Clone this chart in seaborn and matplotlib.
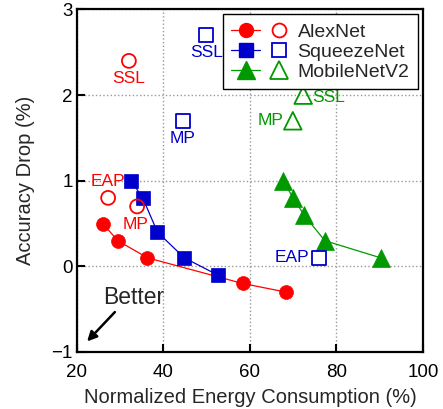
import matplotlib
matplotlib.use("Agg")
import matplotlib.pyplot as plt
import seaborn as sns
from matplotlib.lines import Line2D
from matplotlib.legend_handler import HandlerTuple

# data
alex_x = [26.0, 29.4, 36.3, 58.3, 68.3]
alex_y = [0.5, 0.3, 0.1, -0.2, -0.3]
squeeze_x = [32.5, 35.2, 38.6, 44.8, 52.5]
squeeze_y = [1.0, 0.8, 0.4, 0.1, -0.1]
mobile_x = [67.6, 70.0, 72.5, 77.3, 90.2]
mobile_y = [1.0, 0.8, 0.6, 0.3, 0.1]

alex_open_x = [32.0, 27.2, 33.9]
alex_open_y = [2.4, 0.8, 0.7]
alex_open_labels = ["SSL", "EAP", "MP"]
squeeze_open_x = [49.9, 44.5, 76.0]
squeeze_open_y = [2.7, 1.7, 0.1]
squeeze_open_labels = ["SSL", "MP", "EAP"]
mobile_open_x = [72.3, 69.9]
mobile_open_y = [2.0, 1.7]
mobile_open_labels = ["SSL", "MP"]

series_names = ["AlexNet", "SqueezeNet", "MobileNetV2"]
x_ticks = [20, 40, 60, 80, 100]
y_ticks = [-1, 0, 1, 2, 3]

RED, BLUE, GREEN = "#ff0000", "#0000cc", "#009900"

sns.set_style("ticks")
plt.rcParams["font.family"] = ["Liberation Sans", "DejaVu Sans"]

fig = plt.figure(figsize=(4.43, 4.09), dpi=100)
ax = fig.add_axes([0.1738, 0.1394, 0.781, 0.8374])

# filled markers with lines
filled = [
    (alex_x, alex_y, RED, "o", 10),
    (squeeze_x, squeeze_y, BLUE, "s", 10.5),
    (mobile_x, mobile_y, GREEN, "^", 12.5),
]
for xs, ys, c, m, ms in filled:
    sns.lineplot(x=xs, y=ys, ax=ax, color=c, lw=0.9, marker=m, markersize=ms,
                 markeredgecolor=c, markeredgewidth=0.5, sort=False, zorder=3)

# open markers
opened = [
    (alex_open_x, alex_open_y, RED, "o", 100),
    (squeeze_open_x, squeeze_open_y, BLUE, "s", 100),
    (mobile_open_x, mobile_open_y, GREEN, "^", 160),
]
for xs, ys, c, m, s in opened:
    ax.scatter(xs, ys, marker=m, s=s, facecolors="none", edgecolors=c,
               linewidths=1.3, zorder=3)

# text offsets (points) next to the open markers
label_style = {
    ("AlexNet", "SSL"): ((0, -13), "center"),
    ("AlexNet", "EAP"): ((0, 11.5), "center"),
    ("AlexNet", "MP"): ((-1.4, -13), "center"),
    ("SqueezeNet", "SSL"): ((0, -12.5), "center"),
    ("SqueezeNet", "MP"): ((0, -13), "center"),
    ("SqueezeNet", "EAP"): ((-7, 0), "right"),
    ("MobileNetV2", "SSL"): ((6.5, -1.5), "left"),
    ("MobileNetV2", "MP"): ((-7, 0), "right"),
}
groups = [
    ("AlexNet", alex_open_x, alex_open_y, alex_open_labels, RED),
    ("SqueezeNet", squeeze_open_x, squeeze_open_y, squeeze_open_labels, BLUE),
    ("MobileNetV2", mobile_open_x, mobile_open_y, mobile_open_labels, GREEN),
]
for name, xs, ys, labs, c in groups:
    for x, y, lab in zip(xs, ys, labs):
        off, ha = label_style[(name, lab)]
        ax.annotate(lab, (x, y), xytext=off, textcoords="offset points",
                    ha=ha, va="center", color=c, fontsize=12.5)

# "Better" arrow
ax.annotate("", xy=(21.9, -0.9), xytext=(29.2, -0.51),
            arrowprops=dict(arrowstyle="-|>", color="k", lw=1.8, mutation_scale=14))
ax.text(33.2, -0.36, "Better", ha="center", va="center", fontsize=16.5)

ax.set_xlim(20, 100)
ax.set_ylim(-1, 3)
ax.set_xticks(x_ticks)
ax.set_yticks(y_ticks)
for sp in ax.spines.values():
    sp.set_linewidth(1.6)
    sp.set_color("k")
ax.tick_params(direction="in", length=5.5, width=1.5, labelsize=13.5, colors="k")
ax.tick_params(axis="x", pad=9)
ax.tick_params(axis="y", pad=3)

# dotted grid
ax.xaxis.grid(True, which="major", color="#999999", linestyle=":", linewidth=1.0)
ax.yaxis.grid(True, which="major", color="#999999", linestyle=":", linewidth=1.0)
ax.set_axisbelow(True)

ax.set_xlabel("Normalized Energy Consumption (%)", fontsize=14.5, labelpad=5)
ax.set_ylabel("Accuracy Drop (%)", fontsize=14.5, labelpad=12)

# legend: line+filled marker, open marker, name
handles = []
for (xs, ys, c, m, ms), (_, _, _, _, s) in zip(filled, opened):
    h1 = Line2D([], [], color=c, lw=0.9, marker=m, markersize=ms, markeredgecolor=c)
    h2 = Line2D([], [], ls="none", marker=m, markersize=s ** 0.5,
                markerfacecolor="none", markeredgecolor=c, markeredgewidth=1.3)
    handles.append((h1, h2))
leg = ax.legend(handles, series_names, handler_map={tuple: HandlerTuple(ndivide=None, pad=0.25)},
                loc="upper right", fontsize=14, handlelength=3.2, handletextpad=0.2,
                labelspacing=0.12, borderpad=0.45, borderaxespad=0.25,
                fancybox=False, framealpha=1, edgecolor="k")
leg.get_frame().set_linewidth(1.0)

fig.savefig("out.png", dpi=100)
